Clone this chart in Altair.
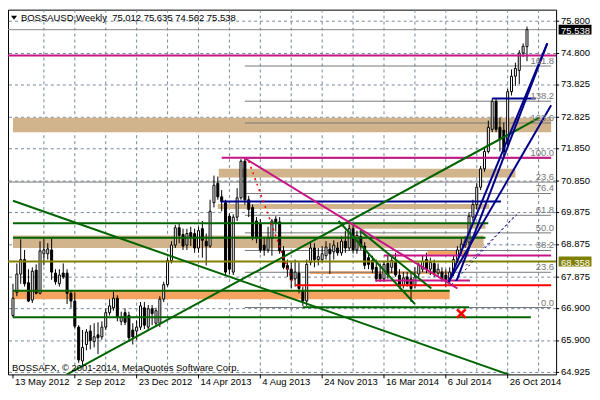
import altair as alt
import pandas as pd
from datetime import datetime, timedelta, timezone

# ---------------- data ----------------
START = datetime(2012, 5, 13, tzinfo=timezone.utc)   # first weekly bar
VIEW_WEEKS = 139.25                                   # visible span in weeks
Y_MIN, Y_MAX = 64.864, 76.158
SYMBOL = "BOSSAUSD,Weekly"

OPEN = [
    66.686, 67.404, 67.971, 68.419, 67.702, 67.165, 68.091, 67.374, 68.599, 68.599,
    68.718, 68.001, 67.672, 68.001, 68.001, 67.374, 67.135, 66.328, 65.282, 65.790,
    66.208, 65.880, 66.089, 66.029, 66.328, 66.776, 66.925, 67.224, 66.507, 66.776,
    66.686, 66.238, 66.208, 66.328, 66.925, 66.328, 66.896, 66.447, 66.447, 67.194,
    67.643, 68.390, 68.868, 69.406, 69.196, 68.868, 69.256, 69.226, 68.778, 69.376,
    68.987, 68.838, 70.182, 70.780, 70.362, 70.182, 69.764, 68.031, 69.734, 70.332,
    71.467, 70.272, 70.033, 69.615, 69.525, 68.868, 68.718, 69.077, 69.674, 69.585,
    68.688, 68.240, 68.121, 67.822, 68.001, 67.433, 67.135, 68.330, 68.778, 68.419,
    68.419, 68.539, 68.748, 68.659, 68.778, 68.629, 68.987, 68.778, 69.376, 68.718,
    69.137, 68.838, 68.479, 68.390, 68.180, 67.971, 67.822, 68.300, 68.180, 68.330,
    67.941, 67.613, 67.882, 67.822, 67.643, 67.971, 68.121, 68.419, 68.121, 68.300,
    68.001, 68.031, 67.941, 67.792, 68.001, 68.419, 68.718, 68.868, 68.957, 69.734,
    70.123, 70.660, 71.228, 71.766, 72.453, 73.320, 72.513, 72.423, 72.065, 73.619,
    74.097, 74.276, 74.814, 75.012,
]
HIGH = [
    67.672, 68.300, 69.047, 68.718, 68.121, 68.180, 68.270, 68.987, 69.077, 68.927,
    69.077, 68.121, 68.121, 68.300, 68.121, 67.463, 67.404, 66.388, 66.238, 66.268,
    66.388, 66.447, 66.477, 66.507, 66.896, 67.194, 67.433, 67.314, 66.806, 66.896,
    66.806, 66.447, 66.537, 67.105, 67.105, 67.015, 67.015, 66.925, 67.284, 67.732,
    68.479, 68.987, 69.495, 69.525, 69.376, 69.376, 69.435, 69.376, 69.435, 69.615,
    69.226, 70.272, 71.019, 70.989, 70.571, 70.272, 69.854, 69.824, 70.631, 71.527,
    71.587, 70.392, 70.123, 69.734, 69.674, 69.077, 69.435, 69.674, 69.764, 69.734,
    68.838, 68.419, 68.330, 68.419, 68.330, 67.583, 68.419, 68.957, 68.927, 68.778,
    68.838, 68.987, 68.927, 69.017, 68.957, 69.137, 69.316, 69.495, 69.495, 69.316,
    69.286, 68.957, 68.629, 68.539, 68.419, 68.300, 68.360, 68.539, 68.539, 68.629,
    68.121, 68.031, 68.031, 68.031, 68.180, 68.330, 68.539, 68.629, 68.479, 68.419,
    68.300, 68.180, 68.121, 68.180, 68.539, 68.838, 69.077, 69.137, 69.884, 70.272,
    70.780, 71.318, 71.856, 72.722, 73.409, 73.409, 72.812, 72.662, 73.708, 74.306,
    74.515, 74.903, 75.113, 75.635,
]
LOW = [
    66.627, 67.284, 67.672, 67.583, 67.105, 67.075, 67.344, 67.344, 68.240, 68.419,
    67.792, 67.643, 67.583, 67.822, 67.045, 66.925, 66.298, 65.222, 65.133, 65.611,
    65.641, 65.700, 65.491, 65.939, 66.238, 66.686, 66.836, 66.507, 66.388, 66.388,
    65.880, 65.790, 65.939, 66.238, 66.268, 66.208, 66.388, 66.328, 66.328, 67.105,
    67.583, 68.300, 68.778, 68.927, 68.718, 68.718, 68.838, 68.629, 68.629, 68.479,
    68.240, 68.778, 70.033, 70.272, 69.913, 67.941, 67.971, 67.941, 69.615, 70.272,
    70.123, 69.734, 69.017, 68.927, 68.629, 68.539, 68.629, 68.539, 69.286, 68.599,
    68.121, 67.882, 67.523, 67.583, 67.374, 66.985, 66.985, 68.240, 68.180, 68.240,
    68.330, 68.419, 67.971, 68.419, 68.539, 68.539, 68.629, 68.688, 68.599, 68.599,
    68.718, 68.121, 68.121, 68.001, 67.732, 67.732, 67.732, 67.822, 68.001, 67.882,
    67.523, 67.523, 67.583, 67.105, 67.523, 67.822, 68.031, 68.001, 67.941, 67.882,
    67.882, 67.732, 67.583, 67.643, 67.912, 68.330, 68.599, 68.778, 68.868, 69.615,
    69.973, 70.571, 71.139, 71.706, 72.364, 72.364, 71.766, 71.527, 71.915, 73.499,
    73.798, 73.858, 74.694, 74.562,
]
CLOSE = [
    67.224, 67.971, 68.419, 67.672, 67.135, 68.061, 67.374, 68.688, 68.718, 68.748,
    68.031, 67.732, 67.941, 67.882, 67.374, 67.135, 66.358, 65.312, 65.700, 66.178,
    65.910, 66.029, 65.999, 66.328, 66.776, 66.985, 67.224, 66.627, 66.627, 66.477,
    65.999, 66.029, 66.328, 66.985, 66.388, 66.896, 66.746, 66.836, 67.194, 67.643,
    68.390, 68.868, 69.406, 69.166, 68.838, 69.226, 69.137, 68.778, 69.316, 69.017,
    68.838, 69.913, 70.720, 70.362, 70.212, 68.031, 68.121, 69.734, 70.332, 71.467,
    70.272, 69.973, 69.137, 69.077, 68.718, 68.718, 69.077, 69.615, 69.555, 68.688,
    68.180, 68.121, 67.792, 68.031, 67.523, 67.135, 68.270, 68.778, 68.419, 68.509,
    68.599, 68.808, 68.599, 68.868, 68.629, 68.987, 68.778, 69.376, 68.718, 69.166,
    68.838, 68.240, 68.270, 68.121, 67.822, 67.822, 68.270, 67.941, 68.390, 67.941,
    67.583, 67.852, 67.672, 67.523, 67.882, 68.240, 68.360, 68.121, 68.330, 68.031,
    68.121, 67.822, 67.792, 68.031, 68.419, 68.718, 68.898, 68.987, 69.764, 70.123,
    70.660, 71.228, 71.766, 72.513, 73.320, 72.453, 72.154, 71.766, 73.619, 74.097,
    74.336, 74.814, 75.023, 75.538,
]

# price axis (right) and time axis (bottom)
Y_TICKS = [75.800, 74.800, 73.825, 72.825, 71.850, 70.850, 69.875, 68.875,
           67.875, 66.900, 65.900, 64.925]
X_LABELS = ["13 May 2012", "2 Sep 2012", "23 Dec 2012", "14 Apr 2013", "4 Aug 2013",
            "24 Nov 2013", "16 Mar 2014", "6 Jul 2014", "26 Oct 2014"]
X_LABEL_WEEKS = [0, 16, 32, 48, 64, 80, 96, 112, 128]
X_GRID_WEEKS = [8, 16, 24, 32, 40, 48, 56, 64, 72, 80, 88, 96, 104, 112, 120, 128, 136]

# objects: week offsets from the first bar + prices
MAGENTA_FULL = [74.739]
OLIVE_FULL = [68.358]
MAGENTA_H = [(54.0, 139.25, 71.570), (96.0, 139.25, 68.548), (93.75, 118.25, 67.772)]
RED_H = [(73.0, 139.25, 67.628)]
BLUE_H = [(53.75, 126.25, 70.221), (124.0, 135.25, 73.409)]
GREEN_H = [(0.0, 123.0, 69.543), (0.0, 122.25, 69.092), (0.0, 113.0, 67.451),
           (0.0, 134.0, 66.636), (75.0, 118.0, 66.940)]
TAN_BANDS = [(0.0, 139.25, 72.812, 72.364), (53.25, 130.0, 71.228, 70.959),
             (53.0, 123.25, 70.137, 69.987), (86.75, 122.25, 69.555, 69.376),
             (0.0, 121.75, 69.166, 68.778)]
ORANGE_BANDS = [(0.0, 113.0, 67.448, 67.194), (76.75, 112.75, 68.061, 67.971),
                (107.25, 118.0, 68.718, 68.569)]
FIB_START = 60.0
FIB_LABELS = ["0.0", "23.6", "38.2", "50.0", "61.8", "76.4", "100.0", "123.6", "138.2", "161.8"]
FIB_PRICES = [66.935, 68.026, 68.701, 69.246, 69.791, 70.466, 71.557, 72.648, 73.323, 74.413]
FIB2_LABELS = ["23.6"]
FIB2_PRICES = [70.819]
GREEN_TL = [(0.0, 70.240, 128.5, 64.850), (13.75, 64.849, 136.25, 72.812),
            (84.25, 69.615, 104.0, 67.045), (89.75, 69.316, 108.25, 67.523)]
MAGENTA_TL = [(60.0, 71.557, 115.0, 67.523)]
RED_DOT_TL = [(61.0, 71.467, 72.5, 67.672)]
BLUE_TL = [(112.75, 67.732, 138.25, 75.113), (114.75, 67.762, 138.25, 75.113),
           (112.75, 67.732, 139.25, 73.200)]
BLUE_DOT_TL = [(113.5, 67.643, 129.75, 69.764), (117.25, 68.240, 131.0, 69.884)]
X_MARK = [(116.0, 66.746)]
COPYRIGHT = "BOSSAFX, \u00a9 2001-2014, MetaQuotes Software Corp."

# ---------------- helpers ----------------
W, H = 550, 366
FONT = "Liberation Sans"
FS = 9.5
GRID = "#778899"


def at(w):
    return (START + timedelta(days=7 * w)).strftime("%Y-%m-%dT%H:%M:%SZ")


def ms(w):
    return int(round((START + timedelta(days=7 * w)).timestamp() * 1000))


X_SCALE = alt.Scale(type="utc", domain=[ms(0), ms(VIEW_WEEKS)], nice=False)
Y_SCALE = alt.Scale(domain=[Y_MIN, Y_MAX], zero=False, nice=False)


def X(f):
    return alt.X(f"{f}:T", scale=X_SCALE, axis=None)


def Y(f):
    return alt.Y(f"{f}:Q", scale=Y_SCALE, axis=None)


candles = pd.DataFrame({
    "date": [at(i) for i in range(len(OPEN))],
    "open": OPEN, "high": HIGH, "low": LOW, "close": CLOSE,
})


def full_lines(prices, color, width, dash=None):
    df = pd.DataFrame({"p": prices})
    kw = dict(color=color, strokeWidth=width, clip=True)
    if dash:
        kw["strokeDash"] = dash
    return alt.Chart(df).mark_rule(**kw).encode(y=Y("p"))


def hsegs(rows, color, width):
    df = pd.DataFrame([{"d1": at(a), "d2": at(b), "p": p} for a, b, p in rows])
    return alt.Chart(df).mark_rule(color=color, strokeWidth=width, clip=True).encode(
        x=X("d1"), x2="d2", y=Y("p"))


def bands(rows, color):
    df = pd.DataFrame([{"d1": at(a), "d2": at(b), "p1": p1, "p2": p2} for a, b, p1, p2 in rows])
    return alt.Chart(df).mark_rect(color=color, opacity=1, clip=True).encode(
        x=X("d1"), x2="d2", y=Y("p1"), y2="p2")


def tlines(rows, color, width, dash=None):
    df = pd.DataFrame([{"d1": at(a), "p1": p1, "d2": at(b), "p2": p2} for a, p1, b, p2 in rows])
    kw = dict(color=color, strokeWidth=width, clip=True)
    if dash:
        kw["strokeDash"] = dash
    return alt.Chart(df).mark_rule(**kw).encode(x=X("d1"), x2="d2", y=Y("p1"), y2="p2")


# ---------------- grid and axes ----------------
grid_h = full_lines(Y_TICKS, GRID, 1, [3, 3])
vgrid_df = pd.DataFrame({"d": [at(w) for w in X_GRID_WEEKS]})
grid_v = alt.Chart(vgrid_df).mark_rule(color=GRID, strokeWidth=1, strokeDash=[3, 3]).encode(x=X("d"))

ytick_df = pd.DataFrame({"p": Y_TICKS})
y_ticks = alt.Chart(ytick_df).mark_rule(color="black", strokeWidth=1).encode(
    x=alt.value(W), x2=alt.value(W + 3), y=Y("p"))
y_labels = alt.Chart(ytick_df).mark_text(
    align="left", baseline="middle", dy=-0.5, font=FONT, fontSize=FS, color="black"
).encode(x=alt.value(W + 5), y=Y("p"), text=alt.Text("p:Q", format=".3f"))

xlab_df = pd.DataFrame({"d": [at(w) for w in X_LABEL_WEEKS], "label": X_LABELS})
x_ticks = alt.Chart(xlab_df).mark_rule(color="black", strokeWidth=1).encode(
    x=X("d"), y=alt.value(H), y2=alt.value(H + 4))
x_labels = alt.Chart(xlab_df).mark_text(
    align="left", baseline="top", dx=2, font=FONT, fontSize=FS, color="black"
).encode(x=X("d"), y=alt.value(H + 3), text="label:N")

# ---------------- chart objects ----------------
tan = bands(TAN_BANDS, "#D2B48C")
orange = bands(ORANGE_BANDS, "#F4A460")
fib = hsegs([(FIB_START, VIEW_WEEKS, p) for p in FIB_PRICES], "#787878", 1)
fib2 = full_lines(FIB2_PRICES, "#787878", 1)
bid = full_lines([CLOSE[-1]], "#8a8a8a", 1)

wicks = alt.Chart(candles).mark_rule(color="black", strokeWidth=1, clip=True).encode(
    x=X("date"), y=Y("low"), y2="high")
bodies = alt.Chart(candles).mark_bar(size=2, stroke="black", strokeWidth=1, clip=True).encode(
    x=X("date"), y=Y("open"), y2="close",
    fill=alt.condition("datum.close >= datum.open", alt.value("white"), alt.value("black")))

green_h = hsegs(GREEN_H, "#006400", 2)
olive = full_lines(OLIVE_FULL, "#808000", 2)
mag_full = full_lines(MAGENTA_FULL, "#C71585", 2)
mag_h = hsegs(MAGENTA_H, "#C71585", 2)
red_h = hsegs(RED_H, "#FF0000", 2)
blue_h = hsegs(BLUE_H, "#00008B", 2)
green_tl = tlines(GREEN_TL, "#006400", 2)
mag_tl = tlines(MAGENTA_TL, "#C71585", 2)
red_dot = tlines(RED_DOT_TL, "#FF0000", 1.5, [2, 4])
blue_tl = tlines(BLUE_TL, "#00008B", 2)
blue_dot = tlines(BLUE_DOT_TL, "#00008B", 1, [2, 3])

xm_df = pd.DataFrame([{"d": at(w), "p": p} for w, p in X_MARK])
XPATH = ("M-1,-0.65L-0.65,-1L0,-0.35L0.65,-1L1,-0.65L0.35,0L1,0.65L0.65,1"
         "L0,0.35L-0.65,1L-1,0.65L-0.35,0Z")
xmark = alt.Chart(xm_df).mark_point(shape=XPATH, size=110, filled=True, color="#FF0000",
                                    opacity=1, strokeWidth=0).encode(x=X("d"), y=Y("p"))

fib_txt_df = pd.DataFrame({"label": FIB_LABELS + FIB2_LABELS, "p": FIB_PRICES + FIB2_PRICES})
fib_txt = alt.Chart(fib_txt_df).mark_text(
    align="right", baseline="alphabetic", dy=-2, font=FONT, fontSize=FS, color="#787878"
).encode(x=alt.value(W - 2), y=Y("p"), text="label:N")

title_df = pd.DataFrame({"t": [f"{SYMBOL}\u00a0 {OPEN[-1]:.3f} {HIGH[-1]:.3f} {LOW[-1]:.3f} {CLOSE[-1]:.3f}"]})
title = alt.Chart(title_df).mark_text(
    align="left", baseline="alphabetic", font=FONT, fontSize=FS, color="black"
).encode(x=alt.value(13), y=alt.value(11), text="t:N")
tri = alt.Chart(title_df).mark_point(shape="M-1,-0.6L1,-0.6L0,0.7Z", size=36, filled=True,
                                     color="black", opacity=1, strokeWidth=0).encode(
    x=alt.value(6), y=alt.value(8))

copy_df = pd.DataFrame({"t": [COPYRIGHT]})
copy_txt = alt.Chart(copy_df).mark_text(
    align="left", baseline="alphabetic", font=FONT, fontSize=FS, color="black"
).encode(x=alt.value(4), y=alt.value(H - 3.5), text="t:N")

box_df = pd.DataFrame({"p": [CLOSE[-1], OLIVE_FULL[0]],
                       "label": [f"{CLOSE[-1]:.3f}", f"{OLIVE_FULL[0]:.3f}"],
                       "bg": ["#000000", "#808000"]})
boxes = alt.Chart(box_df).mark_point(shape="M-1,-0.3L1,-0.3L1,0.3L-1,0.3Z", size=1089,
                                     filled=True, opacity=1, strokeWidth=0).encode(
    x=alt.value(W + 19), y=Y("p"), color=alt.Color("bg:N", scale=None))
box_txt = alt.Chart(box_df).mark_text(
    align="left", baseline="middle", dy=1, font=FONT, fontSize=FS, color="white"
).encode(x=alt.value(W + 5), y=Y("p"), text="label:N")

chart = alt.layer(
    grid_h, grid_v,
    tan, orange, fib, fib2, bid, wicks, bodies,
    green_h, olive, mag_full, mag_h, red_h, blue_h,
    green_tl, mag_tl, red_dot, blue_tl, blue_dot, xmark,
    fib_txt, title, tri, copy_txt,
    y_ticks, y_labels, x_ticks, x_labels, boxes, box_txt,
).properties(
    width=W, height=H,
    padding={"left": 0, "top": 0, "right": 0, "bottom": 0},
    background="white",
).configure_view(stroke="black", strokeWidth=1)

chart.save("out.html", embed_options={"renderer": "svg", "actions": False})
